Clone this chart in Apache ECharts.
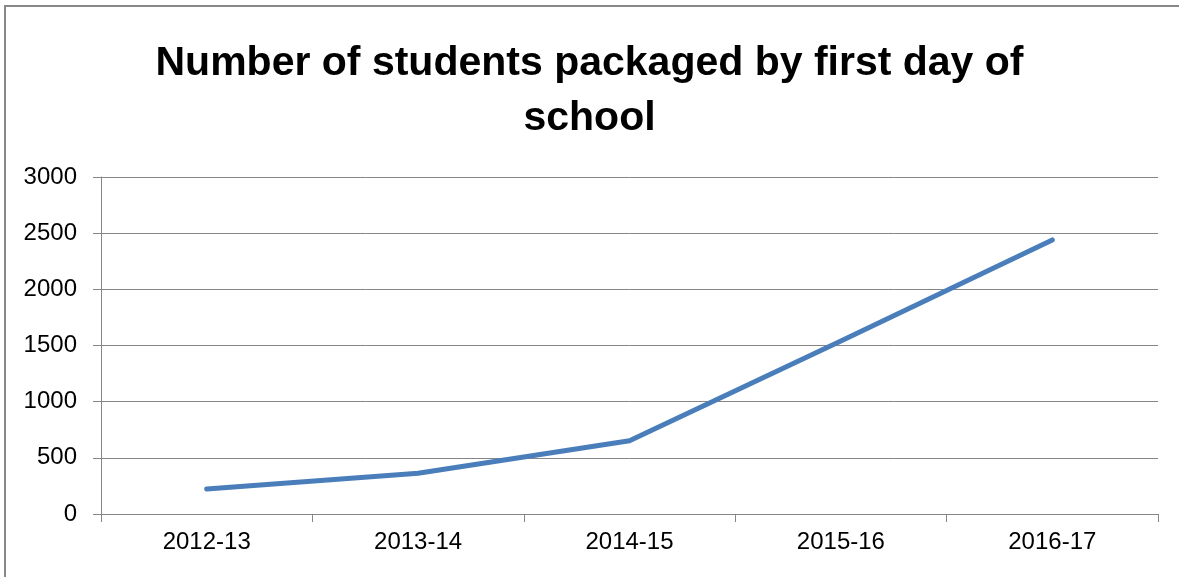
<!DOCTYPE html>
<html>
<head>
<meta charset="utf-8">
<script src="https://cdn.jsdelivr.net/npm/echarts@6/dist/echarts.min.js"></script>
<style>
    html, body { margin: 0; padding: 0; background: #fff; }
    #chart { width: 1179px; height: 577px; }
</style>
</head>
<body>
<div id="chart"></div>
<script>
// 数据
const seasons = ['2012-13', '2013-14', '2014-15', '2015-16', '2016-17'];
const students = [222, 362, 652, 1540, 2440];
const yTicks = [0, 500, 1000, 1500, 2000, 2500, 3000];

const axisGray = '#868686';

document.addEventListener('DOMContentLoaded', function() {
    const chart = echarts.init(document.getElementById('chart'));
    const option = {
        backgroundColor: '#fff',
        animation: false,
        title: {
            text: 'Number of students packaged by first day of\nschool',
            left: 'center',
            top: 31,
            textStyle: {
                fontFamily: 'Liberation Sans',
                fontSize: 41,
                fontWeight: 'bold',
                color: '#000',
                lineHeight: 55
            }
        },
        graphic: [{
            type: 'polyline',
            shape: { points: [[5, 600], [5, 6], [1200, 6]] },
            style: { stroke: '#888', lineWidth: 2, fill: null },
            silent: true
        }],
        grid: {
            left: 101,
            right: 21,
            top: 177,
            bottom: 63
        },
        xAxis: {
            type: 'category',
            data: seasons,
            boundaryGap: true,
            axisLine: { show: true, lineStyle: { color: axisGray, width: 1 } },
            axisTick: { show: true, length: 8, lineStyle: { color: axisGray } },
            axisLabel: {
                margin: 16,
                fontFamily: 'Liberation Sans',
                fontSize: 24,
                color: '#000'
            },
            splitLine: { show: false }
        },
        yAxis: {
            type: 'value',
            min: yTicks[0],
            max: yTicks[yTicks.length - 1],
            interval: 500,
            axisLine: { show: true, lineStyle: { color: axisGray, width: 1 } },
            axisTick: { show: true, length: 8, lineStyle: { color: axisGray } },
            axisLabel: {
                margin: 24,
                fontFamily: 'Liberation Sans',
                fontSize: 24,
                color: '#000',
                formatter: function(v) { return String(v); }
            },
            splitLine: { show: true, lineStyle: { color: axisGray, width: 1 } }
        },
        series: [{
            name: 'Students',
            type: 'line',
            data: students,
            showSymbol: false,
            symbol: 'none',
            lineStyle: { color: '#4a7ebb', width: 5, cap: 'round', join: 'round' }
        }]
    };
    chart.setOption(option);
});
</script>
</body>
</html>
